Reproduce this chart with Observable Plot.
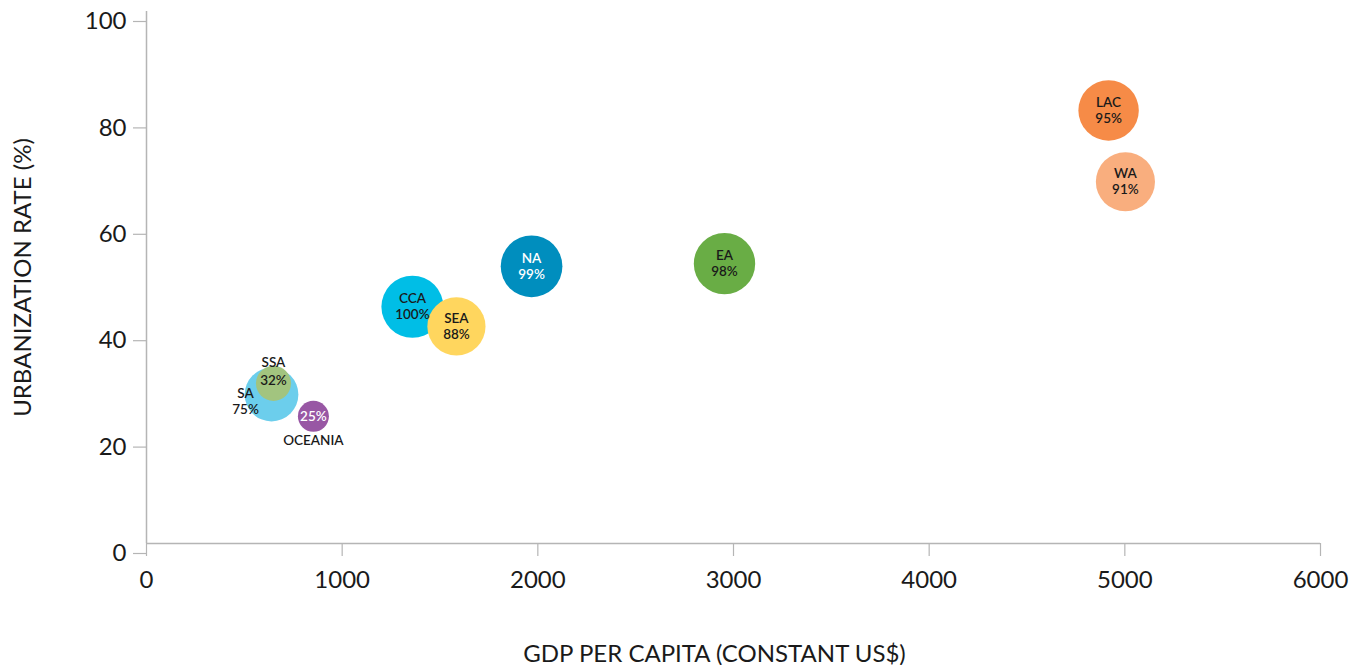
<!DOCTYPE html>
<html>
<head>
<meta charset="utf-8">
<script src="https://cdn.jsdelivr.net/npm/d3@7"></script>
<script src="https://cdn.jsdelivr.net/npm/@observablehq/plot@0.6"></script>
<style>
  html, body { margin: 0; padding: 0; background: #fff; }
  #chart svg { display: block; }
</style>
</head>
<body>
<div id="chart"></div>
<script>
// Data (drawing order: later on top)
const regions = ["LAC", "WA", "NA", "EA", "SEA", "CCA", "SA", "SSA", "OCEANIA"];
const gdp     = [4917, 5003, 1968, 2954, 1584, 1359, 639, 649, 853];
const urban   = [81.4, 68.0, 52.1, 52.6, 40.8, 44.5, 28.0, 30.1, 23.9];
const share   = [95, 91, 99, 98, 88, 100, 75, 32, 25];
const colors  = ["#F68B47", "#F9AE7E", "#008EBE", "#69AD45", "#FFD65E", "#00BEE6", "#6CCEEC", "#A2C47F", "#9857A4"];
const xTicks = [0, 1000, 2000, 3000, 4000, 5000, 6000];
const yTicks = [0, 20, 40, 60, 80, 100];

const data = regions.map((r, i) => ({region: r, gdp: gdp[i], urban: urban[i], share: share[i], color: colors[i]}));
const inside = data.filter(d => !["SA", "SSA", "OCEANIA"].includes(d.region));
const get = name => data.filter(d => d.region === name);

const font = "Lato, 'Noto Sans', sans-serif";
const ink = "#1a1a1a";
const axisGray = "#b5b5b5";
const lab = {fill: ink, fontSize: 13.5, fontWeight: 600};

const chart = Plot.plot({
  width: 1369,
  height: 665,
  marginLeft: 146,
  marginRight: 49,
  marginTop: 11,
  marginBottom: 122,
  style: {fontFamily: font, background: "#fff"},
  x: {domain: [0, 6000]},
  y: {domain: [0, 100]},
  r: {domain: [0, 100], range: [0, 31]},
  marks: [
    Plot.ruleX([0], {stroke: axisGray, strokeWidth: 1.5}),
    Plot.ruleY([0], {stroke: axisGray, strokeWidth: 1.5}),
    Plot.axisX({
      ticks: xTicks, tickSize: 13, tickPadding: 14, stroke: axisGray, strokeWidth: 1.2,
      tickFormat: d => String(d), fontSize: 24, fontWeight: 400, fill: ink, label: null
    }),
    Plot.axisY({
      ticks: yTicks, tickSize: 13, tickPadding: 7, stroke: axisGray, strokeWidth: 1.2,
      tickFormat: d => String(d), fontSize: 24, fontWeight: 400, fill: ink, dy: 10, label: null
    }),
    Plot.dot(data, {
      x: "gdp", y: "urban", r: "share", fill: "color", stroke: "none"
    }),
    // labels inside the bubbles: name above, share below
    Plot.text(inside, {
      x: "gdp", y: "urban", text: d => d.region, dy: -8, ...lab,
      fill: d => d.region === "NA" ? "#fff" : ink
    }),
    Plot.text(inside, {
      x: "gdp", y: "urban", text: d => `${d.share}%`, dy: 8, ...lab,
      fill: d => d.region === "NA" ? "#fff" : ink
    }),
    // SSA
    Plot.text(get("SSA"), {x: "gdp", y: "urban", text: d => d.region, dy: -21, ...lab}),
    Plot.text(get("SSA"), {x: "gdp", y: "urban", text: d => `${d.share}%`, dy: -3, ...lab}),
    // SA
    Plot.text(get("SA"), {x: "gdp", y: "urban", text: d => d.region, dx: -26, dy: -1, ...lab}),
    Plot.text(get("SA"), {x: "gdp", y: "urban", text: d => `${d.share}%`, dx: -26, dy: 15, ...lab}),
    // OCEANIA
    Plot.text(get("OCEANIA"), {x: "gdp", y: "urban", text: d => `${d.share}%`, ...lab, fill: "#fff"}),
    Plot.text(get("OCEANIA"), {x: "gdp", y: "urban", text: d => d.region, dy: 24, ...lab}),
    // axis titles
    Plot.text(["GDP PER CAPITA (CONSTANT US$)"], {
      frameAnchor: "bottom", dy: 118, text: d => d, fontSize: 24, fontWeight: 400, fill: ink, dx: -19
    }),
    Plot.text(["URBANIZATION RATE (%)"], {
      frameAnchor: "left", textAnchor: "middle", dx: -123, rotate: -90, text: d => d,
      fontSize: 24, fontWeight: 400, fill: ink
    })
  ]
});
document.getElementById("chart").appendChild(chart);
</script>
</body>
</html>
